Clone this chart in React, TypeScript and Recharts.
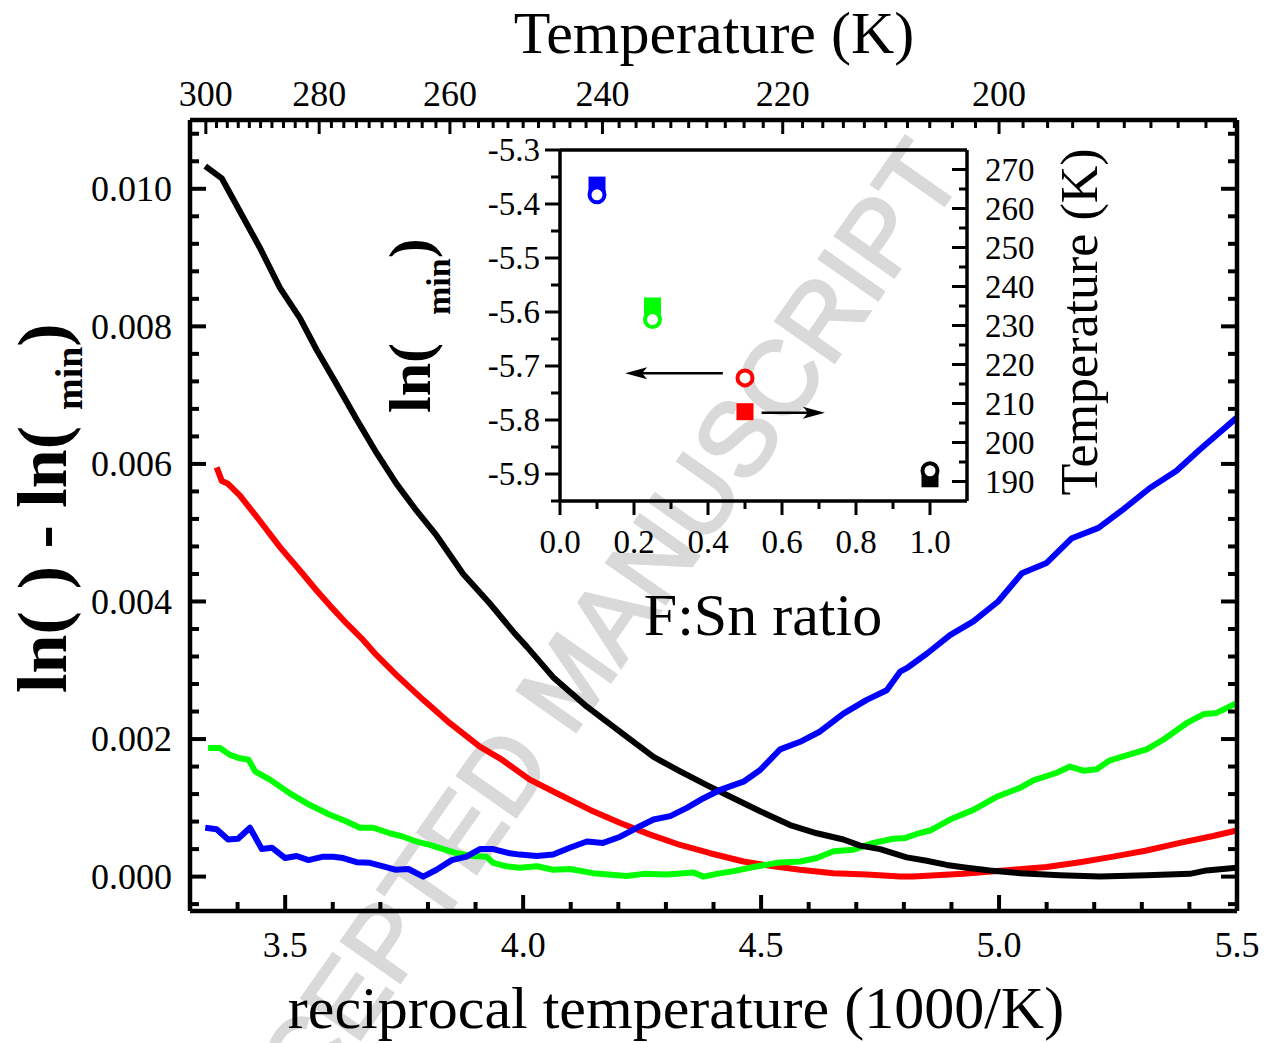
import React from 'react';
import { LineChart, Line, XAxis, YAxis, ScatterChart, Scatter, ReferenceLine } from 'recharts';

const SERIF = '"Liberation Serif", "Times New Roman", serif';

// main panel: ln(rho) - ln(rho_min) vs reciprocal temperature (1000/K)
const blackX = [3.332, 3.367, 3.405, 3.447, 3.489, 3.531, 3.566, 3.608, 3.650, 3.692, 3.734, 3.776, 3.818, 3.874, 3.930, 3.983, 4.008, 4.063, 4.134, 4.218, 4.274, 4.330, 4.386, 4.442, 4.498, 4.561, 4.617, 4.673, 4.708, 4.750, 4.806, 4.848, 4.890, 4.932, 4.981, 5.044, 5.128, 5.212, 5.310, 5.401, 5.436, 5.499];
const blackY = [0.01033, 0.01015, 0.00967, 0.00914, 0.00856, 0.00812, 0.00766, 0.00716, 0.00665, 0.00616, 0.00571, 0.00532, 0.00496, 0.00440, 0.00397, 0.00353, 0.00334, 0.00290, 0.00247, 0.00203, 0.00174, 0.00153, 0.00133, 0.00114, 0.00095, 0.00075, 0.00063, 0.00054, 0.00045, 0.00040, 0.00028, 0.00023, 0.00017, 0.00013, 0.00009, 0.00005, 0.00002, 0.0, 0.00002, 0.00004, 0.00009, 0.00013];

const redX = [3.356, 3.367, 3.380, 3.405, 3.447, 3.489, 3.531, 3.566, 3.594, 3.629, 3.661, 3.692, 3.734, 3.790, 3.846, 3.909, 3.951, 4.014, 4.077, 4.141, 4.204, 4.267, 4.330, 4.393, 4.463, 4.526, 4.582, 4.652, 4.722, 4.792, 4.820, 4.925, 5.030, 5.100, 5.170, 5.240, 5.310, 5.380, 5.450, 5.499];
const redY = [0.00595, 0.00575, 0.00571, 0.00554, 0.00517, 0.00479, 0.00445, 0.00416, 0.00394, 0.00368, 0.00346, 0.00322, 0.00293, 0.00257, 0.00223, 0.00189, 0.00172, 0.00141, 0.00119, 0.00097, 0.00078, 0.00061, 0.00046, 0.00034, 0.00022, 0.00015, 0.00010, 0.00005, 0.00003, 0.0, 0.0, 0.00004, 0.00010, 0.00014, 0.00021, 0.00029, 0.00038, 0.00049, 0.00059, 0.00067];

const greenX = [3.338, 3.363, 3.384, 3.405, 3.423, 3.437, 3.468, 3.510, 3.552, 3.594, 3.629, 3.657, 3.685, 3.720, 3.748, 3.776, 3.804, 3.832, 3.860, 3.895, 3.923, 3.937, 3.965, 3.993, 4.029, 4.063, 4.098, 4.147, 4.218, 4.253, 4.302, 4.358, 4.379, 4.407, 4.442, 4.484, 4.533, 4.582, 4.617, 4.652, 4.694, 4.736, 4.778, 4.802, 4.827, 4.855, 4.897, 4.946, 4.995, 5.044, 5.072, 5.121, 5.149, 5.177, 5.205, 5.233, 5.282, 5.310, 5.345, 5.394, 5.429, 5.457, 5.499];
const greenY = [0.00187, 0.00187, 0.00177, 0.00172, 0.00170, 0.00153, 0.00141, 0.00121, 0.00104, 0.00090, 0.00080, 0.00071, 0.00071, 0.00063, 0.00058, 0.00051, 0.00046, 0.00040, 0.00034, 0.00030, 0.00029, 0.00020, 0.00015, 0.00013, 0.00015, 0.00010, 0.00011, 0.00005, 0.00001, 0.00004, 0.00003, 0.00006, 0.0, 0.00004, 0.00008, 0.00014, 0.00020, 0.00022, 0.00027, 0.00037, 0.00039, 0.00049, 0.00055, 0.00056, 0.00062, 0.00067, 0.00083, 0.00097, 0.00116, 0.00129, 0.00140, 0.00151, 0.00160, 0.00154, 0.00156, 0.00169, 0.00179, 0.00185, 0.00199, 0.00223, 0.00236, 0.00238, 0.00252];

const blueX = [3.332, 3.356, 3.380, 3.401, 3.426, 3.451, 3.472, 3.500, 3.524, 3.549, 3.580, 3.601, 3.622, 3.650, 3.678, 3.706, 3.731, 3.759, 3.790, 3.818, 3.850, 3.881, 3.909, 3.937, 3.972, 3.993, 4.029, 4.063, 4.098, 4.134, 4.168, 4.204, 4.239, 4.274, 4.309, 4.344, 4.379, 4.414, 4.463, 4.498, 4.540, 4.582, 4.624, 4.673, 4.722, 4.764, 4.792, 4.806, 4.848, 4.897, 4.946, 4.998, 5.048, 5.100, 5.153, 5.209, 5.261, 5.317, 5.373, 5.422, 5.499];
const blueY = [0.00071, 0.00069, 0.00054, 0.00055, 0.00071, 0.00040, 0.00042, 0.00027, 0.00030, 0.00024, 0.00029, 0.00029, 0.00027, 0.00021, 0.00020, 0.00015, 0.00010, 0.00011, 0.0, 0.00010, 0.00024, 0.00029, 0.00040, 0.00040, 0.00034, 0.00032, 0.00030, 0.00032, 0.00042, 0.00051, 0.00049, 0.00058, 0.00071, 0.00083, 0.00088, 0.00100, 0.00114, 0.00126, 0.00138, 0.00155, 0.00185, 0.00196, 0.00211, 0.00237, 0.00257, 0.00271, 0.00298, 0.00303, 0.00324, 0.00351, 0.00371, 0.00400, 0.00441, 0.00456, 0.00492, 0.00507, 0.00534, 0.00565, 0.00590, 0.00621, 0.00667];

// inset: minimum position per F:Sn ratio
const ratio = [0.1, 0.25, 0.5, 1.0];
const lnRhoMin = [-5.383, -5.614, -5.722, -5.894];
const tMin = [266.0, 235.0, 207.9, 190.7];
const sampleColors = ['#0000ff', '#00ff00', '#ff0000', '#000000'];

// axis ticks
const xMajor = [3.5, 4.0, 4.5, 5.0, 5.5];
const yMajor = [0, 0.002, 0.004, 0.006, 0.008, 0.01];
const tempMajor = [300, 280, 260, 240, 220, 200];
const insetXMajor = [0, 0.2, 0.4, 0.6, 0.8, 1.0];
const insetLnMajor = [-5.3, -5.4, -5.5, -5.6, -5.7, -5.8, -5.9];
const insetTMajor = [190, 200, 210, 220, 230, 240, 250, 260, 270];

const range = (from: number, to: number, step: number) => {
  const n = Math.round((to - from) / step);
  return Array.from({ length: n + 1 }, (_, i) => +(from + i * step).toFixed(6));
};

const xTicks = range(3.4, 5.5, 0.1);
const yTicks = range(-0.0004, 0.0108, 0.0004);
const tempTicks = range(182, 300, 2).map((t) => +(1000 / t).toFixed(6));
const tempMajorX = tempMajor.map((t) => +(1000 / t).toFixed(6));
const insetXTicks = range(0, 1.0, 0.1);
const insetLnTicks = range(-5.95, -5.3, 0.05);
const insetTTicks = range(190, 270, 5);

const rows = (xs: number[], ys: number[]) => xs.map((x, i) => ({ x, y: ys[i] }));
const has = (list: number[], v: number) => list.some((m) => Math.abs(m - v) < 1e-5);

type TickOpts = {
  side: 'top' | 'bottom' | 'left' | 'right';
  majors: number[];
  major: number;
  minor: number;
  out?: boolean;
  gap?: number;
  size?: number;
  label?: (v: number) => string | null;
  width?: number;
};

// ticks are drawn by hand so they can point into the frame (or out of it)
const makeTick = (o: TickOpts) => (p: any) => {
  const v = p.payload.value;
  const isMajor = has(o.majors, v);
  const len = isMajor ? o.major : o.minor;
  const s = o.out ? -1 : 1;
  const { x, y } = p;
  let x2 = x, y2 = y;
  if (o.side === 'bottom') y2 = y - s * len;
  if (o.side === 'top') y2 = y + s * len;
  if (o.side === 'left') x2 = x + s * len;
  if (o.side === 'right') x2 = x - s * len;
  const text = o.label ? o.label(v) : null;
  const fs = o.size ?? 36;
  const gap = o.gap ?? 0;
  let lbl = null;
  if (text !== null && isMajor) {
    const common = { fontFamily: SERIF, fontSize: fs, fill: '#000' };
    if (o.side === 'bottom') lbl = <text {...common} x={x} y={y + gap} textAnchor="middle">{text}</text>;
    if (o.side === 'top') lbl = <text {...common} x={x} y={y - gap} textAnchor="middle">{text}</text>;
    if (o.side === 'left') lbl = <text {...common} x={x - gap} y={y + fs * 0.34} textAnchor="end">{text}</text>;
    if (o.side === 'right') lbl = <text {...common} x={x + gap} y={y + fs * 0.34} textAnchor="start">{text}</text>;
  }
  return (
    <g>
      <line x1={x} y1={y} x2={x2} y2={y2} stroke="#000" strokeWidth={o.width ?? 4} />
      {lbl}
    </g>
  );
};

const arrowShape = (p: any) => {
  const { x1, y1, x2, y2 } = p;
  const d = Math.sign(x2 - x1);
  return (
    <g>
      <line x1={x1} y1={y1} x2={x2 - d * 14} y2={y2} stroke="#000" strokeWidth={2.5} />
      <polygon
        points={`${x2},${y2} ${x2 - d * 22},${y2 - 6} ${x2 - d * 17},${y2} ${x2 - d * 22},${y2 + 6}`}
        fill="#000"
      />
    </g>
  );
};

const squareShape = (p: any) => (
  <rect x={p.cx - 8.5} y={p.cy - 8.5} width={17} height={17} fill={p.payload.color} />
);
const circleShape = (p: any) => (
  <circle cx={p.cx} cy={p.cy} r={7.5} fill="#fff" stroke={p.payload.color} strokeWidth={4} />
);

const frame = { stroke: '#000', strokeWidth: 4.5 };
const insetFrame = { stroke: '#000', strokeWidth: 3.5 };
const flat = { tickSize: 0, tickMargin: 0, tickLine: false, interval: 0 as const, allowDataOverflow: true };

export default function App() {
  const squares = ratio.map((x, i) => ({ x, y: tMin[i], color: sampleColors[i] }));
  const circles = ratio.map((x, i) => ({ x, y: lnRhoMin[i], color: sampleColors[i] }));
  const mainLbl = 70;
  const insetLbl = 60;

  return (
    <div style={{ position: 'absolute', left: 0, top: 0, width: 1271, height: 1043, background: '#fff', overflow: 'hidden' }}>
      <svg width={1271} height={1043} style={{ position: 'absolute', left: 0, top: 0 }}>
        <text
          x={568}
          y={680}
          transform="rotate(-55 568 680)"
          textAnchor="middle"
          dominantBaseline="central"
          fontFamily='"Liberation Sans", Arial, sans-serif'
          fontSize={104}
          fill="#d9d9d9"
          stroke="#d9d9d9"
          strokeWidth={3}
        >
          ACCEPTED MANUSCRIPT
        </text>
      </svg>

      <div style={{ position: 'absolute', left: 0, top: 0 }}>
        <LineChart width={1271} height={1043} margin={{ top: 119, right: 33, bottom: 131, left: 189 }}>
          <XAxis
            xAxisId="bottom"
            dataKey="x"
            type="number"
            domain={[3.3, 5.5]}
            ticks={xTicks}
            height={1}
            {...flat}
            axisLine={frame}
            tick={makeTick({ side: 'bottom', majors: xMajor, major: 16, minor: 9, gap: 46, size: 36, label: (v) => v.toFixed(1) })}
          />
          <XAxis
            xAxisId="top"
            dataKey="x"
            orientation="top"
            type="number"
            domain={[3.3, 5.5]}
            ticks={tempTicks}
            height={1}
            {...flat}
            axisLine={frame}
            tick={makeTick({
              side: 'top',
              majors: tempMajorX,
              major: 14,
              minor: 8,
              gap: 14,
              size: 36,
              width: 3,
              label: (v) => String(Math.round(1000 / v)),
            })}
          />
          <YAxis
            yAxisId="left"
            type="number"
            domain={[-0.0005, 0.011]}
            ticks={yTicks}
            width={1}
            {...flat}
            axisLine={frame}
            tick={makeTick({ side: 'left', majors: yMajor, major: 16, minor: 9, gap: 18, size: 36, label: (v) => v.toFixed(3) })}
          />
          <YAxis
            yAxisId="right"
            orientation="right"
            type="number"
            domain={[-0.0005, 0.011]}
            ticks={yTicks}
            width={1}
            {...flat}
            axisLine={frame}
            tick={makeTick({ side: 'right', majors: yMajor, major: 16, minor: 9 })}
          />
          <Line xAxisId="bottom" yAxisId="left" data={rows(redX, redY)} dataKey="y" stroke="#ff0000" strokeWidth={6} dot={false} isAnimationActive={false} strokeLinejoin="round" />
          <Line xAxisId="bottom" yAxisId="left" data={rows(greenX, greenY)} dataKey="y" stroke="#00ff00" strokeWidth={6} dot={false} isAnimationActive={false} strokeLinejoin="round" />
          <Line xAxisId="bottom" yAxisId="left" data={rows(blackX, blackY)} dataKey="y" stroke="#000000" strokeWidth={6} dot={false} isAnimationActive={false} strokeLinejoin="round" />
          {/* same x range on both axes, so the top (temperature) axis carries this series */}
          <Line xAxisId="top" yAxisId="right" data={rows(blueX, blueY)} dataKey="y" stroke="#0000ff" strokeWidth={6} dot={false} isAnimationActive={false} strokeLinejoin="round" />
        </LineChart>
      </div>

      <div style={{ position: 'absolute', left: 370, top: 120 }}>
        <ScatterChart width={760} height={540} margin={{ top: 29, right: 162, bottom: 158, left: 189 }}>
          <XAxis
            xAxisId="b"
            dataKey="x"
            type="number"
            domain={[0, 1.1]}
            ticks={insetXTicks}
            height={1}
            {...flat}
            axisLine={insetFrame}
            tick={makeTick({ side: 'bottom', majors: insetXMajor, major: 14, minor: 8, out: true, gap: 52, size: 33, width: 3, label: (v) => v.toFixed(1) })}
          />
          <XAxis
            xAxisId="t"
            orientation="top"
            type="number"
            domain={[0, 1.1]}
            ticks={insetXTicks}
            height={1}
            {...flat}
            axisLine={insetFrame}
            tick={makeTick({ side: 'top', majors: insetXMajor, major: 14, minor: 8, width: 3 })}
          />
          <YAxis
            yAxisId="l"
            dataKey="y"
            type="number"
            domain={[-5.95, -5.3]}
            ticks={insetLnTicks}
            width={1}
            {...flat}
            axisLine={insetFrame}
            tick={makeTick({ side: 'left', majors: insetLnMajor, major: 15, minor: 9, out: true, gap: 20, size: 33, width: 3, label: (v) => v.toFixed(1) })}
          />
          <YAxis
            yAxisId="r"
            orientation="right"
            dataKey="y"
            type="number"
            domain={[185, 275]}
            ticks={insetTTicks}
            width={1}
            {...flat}
            axisLine={insetFrame}
            tick={makeTick({ side: 'right', majors: insetTMajor, major: 15, minor: 8, gap: 18, size: 33, width: 3, label: (v) => String(Math.round(v)) })}
          />
          <ReferenceLine
            xAxisId="b"
            yAxisId="l"
            segment={[{ x: 0.44, y: -5.7135 }, { x: 0.176, y: -5.7135 }]}
            shape={arrowShape}
          />
          <ReferenceLine
            xAxisId="b"
            yAxisId="r"
            segment={[{ x: 0.545, y: 207.6 }, { x: 0.716, y: 207.6 }]}
            shape={arrowShape}
          />
          <Scatter xAxisId="b" yAxisId="r" data={squares} shape={squareShape} isAnimationActive={false} />
          <Scatter xAxisId="b" yAxisId="l" data={circles} shape={circleShape} isAnimationActive={false} />
        </ScatterChart>
      </div>

      <svg width={1271} height={1043} style={{ position: 'absolute', left: 0, top: 0, pointerEvents: 'none' }}>
        <g fontFamily={SERIF} fill="#000">
          <text x={714} y={53} fontSize={60} textAnchor="middle">Temperature (K)</text>
          <text x={676} y={1028} fontSize={60} textAnchor="middle">reciprocal temperature (1000/K)</text>
          <text x={763} y={635} fontSize={60} textAnchor="middle">F:Sn ratio</text>
          <text transform="translate(1097 322) rotate(-90)" fontSize={52} textAnchor="middle">Temperature (K)</text>
          <text transform="translate(66 693) rotate(-90)" fontSize={mainLbl} fontWeight="bold">
            <tspan>ln(</tspan>
            <tspan dx={22}>) - ln(</tspan>
            <tspan dx={16} dy={16} fontSize={38}>min</tspan>
            <tspan dy={-16}>)</tspan>
          </text>
          <text transform="translate(430 413) rotate(-90)" fontSize={insetLbl} fontWeight="bold">
            <tspan>ln(</tspan>
            <tspan dx={28} dy={20} fontSize={34}>min</tspan>
            <tspan dy={-20}>)</tspan>
          </text>
        </g>
      </svg>
    </div>
  );
}
